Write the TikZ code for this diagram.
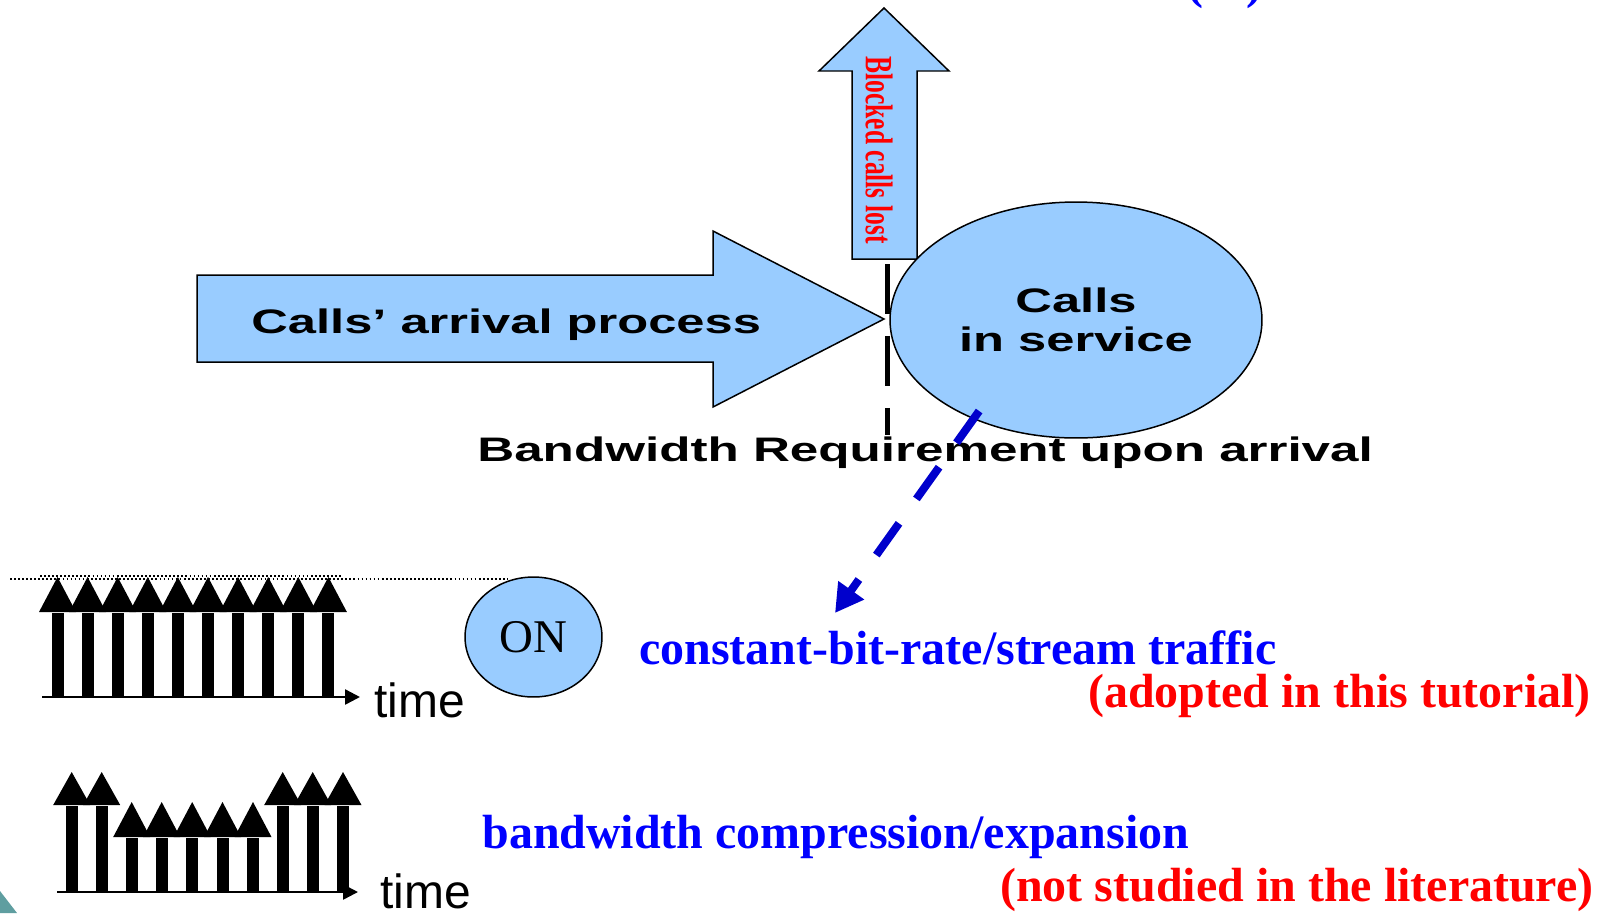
\documentclass[tikz,border=0pt]{standalone}
\usepackage{fontspec}
\setmainfont{Liberation Serif}
\setsansfont{Liberation Sans}
\usepackage{xcolor}
\usepackage{graphicx}
\usetikzlibrary{arrows.meta,calc,shapes.geometric,positioning}

\definecolor{callblue}{HTML}{99CCFF}
\definecolor{linkblue}{HTML}{0000CC}
\definecolor{cornerteal}{HTML}{5F9EA0}

\newcommand{\stretchx}[1]{\scalebox{1.49}[1]{#1}}
% one fat pulse: x, tip y, head base y, foot y
\newcommand{\pulse}[4]{%
  \fill (#1-6,#4) rectangle (#1+6,#3+1);
  \fill (#1-18.5,#3) -- (#1,#2) -- (#1+18.5,#3) -- cycle;}

\begin{document}
\begin{tikzpicture}[x=0.02cm,y=-0.02cm,
  calls/.style={draw=black,line width=0.85pt,fill=callblue},
  sanslabel/.style={inner sep=0pt,font=\sffamily\bfseries\fontsize{19.35}{21}\selectfont},
  bluetext/.style={inner sep=0pt,text=blue,font=\bfseries\fontsize{27.3}{30}\selectfont},
  redtext/.style={inner sep=0pt,text=red,font=\bfseries\fontsize{27.3}{30}\selectfont},
  timelabel/.style={inner sep=0pt,font=\sffamily\fontsize{27.3}{30}\selectfont},
  timeaxis/.style={line width=0.05cm,-{Triangle[length=0.3cm,width=0.3cm]}}]
\useasboundingbox (0,0) rectangle (1601,913);

% clipped heading at the top
\node[bluetext,anchor=base west] (head) at (1187,-2) {(\hspace{0.9em})};

% blocked calls
\draw[calls] (852,259) -- (852,71) -- (819,71) -- (884,8) -- (949,71) -- (917,71) -- (917,259) -- cycle;
\node[rotate=-90,inner sep=0pt,text=red,font=\bfseries\fontsize{22}{24}\selectfont] (lost) at (879,150)
  {\scalebox{0.66}[1]{Blocked calls lost}};

% arrival process
\draw[calls] (197,275) -- (713,275) -- (713,231) -- (884,319) -- (713,407) -- (713,362) -- (197,362) -- cycle;
\node[sanslabel,anchor=base west] (arrival) at (251,333) {\stretchx{Calls’ arrival process}};

\node[calls,ellipse,minimum width=7.44cm,minimum height=4.72cm,inner sep=0pt,
  align=center,font=\sffamily\bfseries\fontsize{19.35}{22.5}\selectfont] (service) at (1076,320)
  {\stretchx{Calls}\\\stretchx{in service}};

\coordinate (gatetop) at (887,264);
\coordinate (gatebot) at (887,435);
\draw[line width=0.1cm,dash pattern=on 1cm off 0.44cm] (gatetop) -- (gatebot);

\node[sanslabel,anchor=base west] (bwreq) at (477,461) {\scalebox{1.505}[1]{Bandwidth Requirement upon arrival}};

% to the traffic types
\coordinate (cbrtip) at (835,613);
\draw[linkblue,line width=0.16cm,dash pattern=on 0.78cm off 0.6cm,shorten <=-0.2cm,
  -{Triangle[length=0.56cm,width=0.6cm]}] (service.-136) -- (cbrtip);

% constant bit rate
\draw[dash pattern=on 1pt off 1.3pt,line width=0.8pt] (10,579) -- (508,579);
\draw[dash pattern=on 1pt off 1.3pt,line width=0.8pt] (40,576) -- (343,576);
\foreach \i in {0,...,9}
  {\pulse{57.5+30.1*\i}{577}{612}{697}}
\coordinate (axisa) at (42,697);
\coordinate (axisaend) at (360,697);
\draw[timeaxis] (axisa) -- (axisaend);
\node[timelabel,anchor=base west] (timea) at (374,717) {time};

\node[calls,ellipse,minimum width=2.74cm,minimum height=2.4cm,inner sep=0pt,
  font=\fontsize{26.7}{30}\selectfont] (on) at (533.5,637) {ON};

\node[bluetext,anchor=base west] (cbr) at (639,664) {constant-bit-rate/stream traffic};
\node[redtext,anchor=base east] (adopted) at (1591,707) {(adopted in this tutorial)};

% compression / expansion
\foreach \x/\t/\b in {71.7/772/805,101.7/772/805,131.7/802/837,161.7/802/837,192.2/802/837,
    222.5/802/837,253/802/837,282.7/772/805,312.7/772/805,343/772/805}
  {\pulse{\x}{\t}{\b}{892}}
\coordinate (axisb) at (57,892);
\coordinate (axisbend) at (358,892);
\draw[timeaxis] (axisb) -- (axisbend);
\node[timelabel,anchor=base west] (timeb) at (380,908) {time};

\node[bluetext,anchor=base west] (bwce) at (482,848) {bandwidth compression/expansion};
\node[redtext,anchor=base east] (notstudied) at (1594,901) {(not studied in the literature)};

\fill[cornerteal] (0,891) -- (17,913) -- (0,913) -- cycle;
\end{tikzpicture}
\end{document}
